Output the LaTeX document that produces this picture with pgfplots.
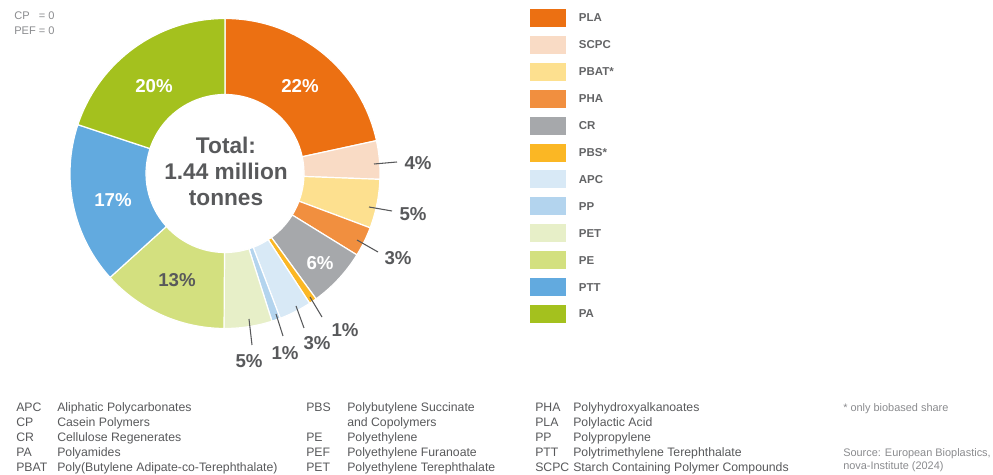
\documentclass[border=0pt]{standalone}
\usepackage{fontspec}
\setmainfont{Liberation Sans}
\usepackage{pgfplots}
\usepackage{pgfplotstable}
\pgfplotsset{compat=1.18}

\definecolor{cPLA}{HTML}{EC7012}
\definecolor{cSCPC}{HTML}{F9DBC5}
\definecolor{cPBAT}{HTML}{FDE08F}
\definecolor{cPHA}{HTML}{F18F3F}
\definecolor{cCR}{HTML}{A6A8AB}
\definecolor{cPBS}{HTML}{FBB724}
\definecolor{cAPC}{HTML}{D8E9F6}
\definecolor{cPP}{HTML}{B3D4EE}
\definecolor{cPET}{HTML}{E7EFC8}
\definecolor{cPE}{HTML}{D3E07F}
\definecolor{cPTT}{HTML}{62AADF}
\definecolor{cPA}{HTML}{A4C11E}
\definecolor{txtdark}{HTML}{58595B}
\definecolor{txtleg}{HTML}{636466}
\definecolor{txtlight}{HTML}{8A8B8E}

% share of global bioplastics production capacity (%), clockwise from top
\pgfplotstableread{
name value col
PLA  21.6 cPLA
SCPC 4.0  cSCPC
PBAT 5.1  cPBAT
PHA  3.1  cPHA
CR   6.2  cCR
PBS  0.8  cPBS
APC  3.4  cAPC
PP   0.9  cPP
PET  5.0  cPET
PE   13.2 cPE
PTT  16.8 cPTT
PA   19.9 cPA
}\sharetable

\newcommand{\pct}{\bfseries\fontsize{14}{16}\selectfont}
\newcommand{\gl}{\fontsize{9.2}{11}\selectfont}

\begin{document}
\begin{tikzpicture}
\begin{axis}[
    x=0.75pt, y=0.75pt,
    xmin=0, xmax=993, ymin=0, ymax=475,
    hide axis, clip=false,
    legend image code/.code={\fill[#1, draw=none] (0pt,-6.75pt) rectangle (27pt,6.75pt);
        \path (31.5pt,0pt);},
    legend cell align=left,
    legend style={at={(axis cs:530,466)}, anchor=north west,
        draw=none, fill=none, inner sep=0pt, outer sep=0pt,
        row sep=6.68pt, text=txtleg,
        font=\bfseries\fontsize{8.6}{10}\selectfont,
        nodes={inner xsep=5pt, inner ysep=0pt, text depth=0pt}},
]
\path (axis cs:0,0) rectangle (axis cs:993,475);

\addlegendimage{fill=cPLA}  \addlegendentry{PLA}
\addlegendimage{fill=cSCPC} \addlegendentry{SCPC}
\addlegendimage{fill=cPBAT} \addlegendentry{PBAT*}
\addlegendimage{fill=cPHA}  \addlegendentry{PHA}
\addlegendimage{fill=cCR}   \addlegendentry{CR}
\addlegendimage{fill=cPBS}  \addlegendentry{PBS*}
\addlegendimage{fill=cAPC}  \addlegendentry{APC}
\addlegendimage{fill=cPP}   \addlegendentry{PP}
\addlegendimage{fill=cPET}  \addlegendentry{PET}
\addlegendimage{fill=cPE}   \addlegendentry{PE}
\addlegendimage{fill=cPTT}  \addlegendentry{PTT}
\addlegendimage{fill=cPA}   \addlegendentry{PA}

% donut slices from the table
\pgfplotsextra{
  \path (axis cs:225,301.5) coordinate (ctr);
  \gdef\cum{0}
  \foreach \i in {0,...,11}{
    \pgfplotstablegetelem{\i}{value}\of\sharetable \let\sliceval\pgfplotsretval
    \pgfplotstablegetelem{\i}{col}\of\sharetable \let\slicecol\pgfplotsretval
    \pgfmathsetmacro\aA{90-3.6*\cum}
    \pgfmathsetmacro\aB{90-3.6*(\cum+\sliceval)}
    \fill[shift={(ctr)}, fill=\slicecol, draw=white, line width=0.9pt, line join=round]
      (\aA:116.25pt) arc[start angle=\aA, end angle=\aB, radius=116.25pt]
      -- (\aB:59.25pt) arc[start angle=\aB, end angle=\aA, radius=59.25pt] -- cycle;
    \pgfmathsetmacro\newcum{\cum+\sliceval}
    \xdef\cum{\newcum}
  }
}

% centre text
\node[anchor=base, text=txtdark, font=\bfseries\fontsize{17}{20}\selectfont] at (axis cs:226,321) {Total:};
\node[anchor=base, text=txtdark, font=\bfseries\fontsize{17}{20}\selectfont] at (axis cs:226,295) {1.44 million};
\node[anchor=base, text=txtdark, font=\bfseries\fontsize{17}{20}\selectfont] at (axis cs:226,269) {tonnes};

% labels inside slices
\node[white, font=\pct] at (axis cs:300,389) {22\%};
\node[white, font=\pct] at (axis cs:154,389) {20\%};
\node[white, font=\pct] at (axis cs:113,275) {17\%};
\node[txtdark, font=\pct] at (axis cs:177,195) {13\%};
\node[white, font=\pct] at (axis cs:320,212) {6\%};

% outside labels with leader lines
\begin{scope}[txtdark, line width=0.8pt]
\draw (axis cs:374,311) -- (axis cs:397,313);
\node[font=\pct] at (axis cs:418,312) {4\%};
\draw (axis cs:369,268) -- (axis cs:392,264);
\node[font=\pct] at (axis cs:413,261) {5\%};
\draw (axis cs:357,235) -- (axis cs:378,223);
\node[font=\pct] at (axis cs:398,217) {3\%};
\draw (axis cs:310,178) -- (axis cs:322,158);
\node[font=\pct] at (axis cs:345,145) {1\%};
\draw (axis cs:296,169) -- (axis cs:304,147);
\node[font=\pct] at (axis cs:317,132) {3\%};
\draw (axis cs:276,161) -- (axis cs:283,139);
\node[font=\pct] at (axis cs:285,122) {1\%};
\draw (axis cs:249,156) -- (axis cs:252,130);
\node[font=\pct] at (axis cs:249,114) {5\%};
\end{scope}

% zero entries
\begin{scope}[every node/.style={anchor=base west, text=txtlight, inner sep=0pt, font=\fontsize{8.3}{10}\selectfont}]
\node at (axis cs:14,455) {CP};  \node at (axis cs:38.5,455) {= 0};
\node at (axis cs:14,440.5) {PEF}; \node at (axis cs:38.5,440.5) {= 0};
\end{scope}

% glossary
\begin{scope}[every node/.style={anchor=base west, inner sep=0pt, text=txtdark, font=\gl}]
\node at (axis cs:16,63) {APC};  \node at (axis cs:57,63) {Aliphatic Polycarbonates};
\node at (axis cs:16,48.2) {CP}; \node at (axis cs:57,48.2) {Casein Polymers};
\node at (axis cs:16,33.4) {CR};   \node at (axis cs:57,33.4) {Cellulose Regenerates};
\node at (axis cs:16,18.6) {PA}; \node at (axis cs:57,18.6) {Polyamides};
\node at (axis cs:16,3.8) {PBAT};  \node at (axis cs:57,3.8) {Poly(Butylene Adipate-co-Terephthalate)};
\node at (axis cs:306,63) {PBS};  \node at (axis cs:347,63) {Polybutylene Succinate};
                                  \node at (axis cs:347,48.2) {and Copolymers};
\node at (axis cs:306,33.4) {PE};   \node at (axis cs:347,33.4) {Polyethylene};
\node at (axis cs:306,18.6) {PEF};\node at (axis cs:347,18.6) {Polyethylene Furanoate};
\node at (axis cs:306,3.8) {PET};   \node at (axis cs:347,3.8) {Polyethylene Terephthalate};
\node at (axis cs:535,63) {PHA};  \node at (axis cs:573,63) {Polyhydroxyalkanoates};
\node at (axis cs:535,48.2) {PLA};\node at (axis cs:573,48.2) {Polylactic Acid};
\node at (axis cs:535,33.4) {PP};   \node at (axis cs:573,33.4) {Polypropylene};
\node at (axis cs:535,18.6) {PTT};\node at (axis cs:573,18.6) {Polytrimethylene Terephthalate};
\node at (axis cs:535,3.8) {SCPC};  \node at (axis cs:573,3.8) {Starch Containing Polymer Compounds};
\end{scope}
\begin{scope}[every node/.style={anchor=base west, inner sep=0pt, text=txtlight, font=\fontsize{8.2}{10}\selectfont}]
\node at (axis cs:843,63) {* only biobased share};
\node at (axis cs:843,18.6) {Source: European Bioplastics,};
\node at (axis cs:843,5) {nova-Institute (2024)};
\end{scope}
\end{axis}
\end{tikzpicture}
\end{document}
